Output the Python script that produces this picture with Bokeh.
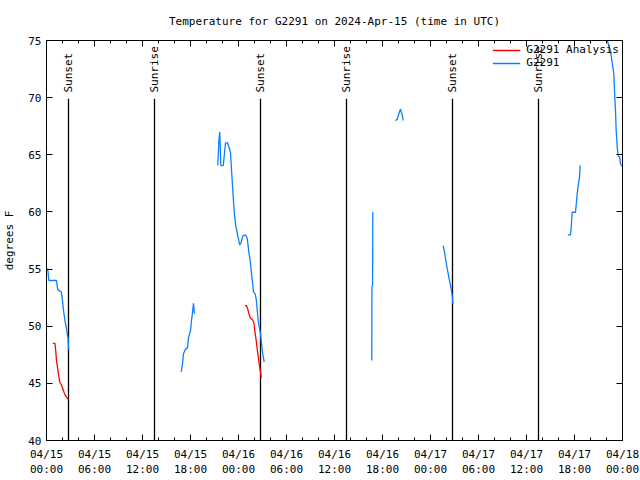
import math
from bokeh.plotting import figure
from bokeh.models import FixedTicker, LinearAxis, Range1d, Legend, LegendItem
from bokeh.core.properties import value
from bokeh.embed import file_html
from bokeh.resources import INLINE

# ---- data (x = hours since 2024-04-15 00:00 UTC) ----
blue1_t = [0.0, 0.15, 0.3, 1.25, 1.4, 1.85, 2.0, 2.1, 2.25, 2.38, 2.5, 2.62, 2.7, 2.75]
blue1_v = [55.0, 55.0, 54.0, 54.0, 53.2, 53.0, 52.2, 51.5, 50.8, 50.2, 49.8, 49.2, 49.0, 48.0]
blue2_t = [16.84, 17.0, 17.125, 17.375, 17.625, 17.75, 18.0, 18.125, 18.25, 18.375, 18.5]
blue2_v = [46.0, 46.7, 47.6, 48.0, 48.1, 49.0, 49.6, 50.5, 51.2, 52.0, 51.1]
blue3_t = [21.41, 21.55, 21.66, 21.79, 22.1, 22.2, 22.375, 22.625, 22.79, 23.0, 23.125,
           23.34, 23.5, 23.66, 23.91, 24.16, 24.34, 24.54, 24.875, 25.09, 25.29, 25.5,
           25.625, 25.75, 25.875, 26.09, 26.21, 26.34, 26.46, 26.59, 26.75, 26.875,
           27.0, 27.125, 27.21]
blue3_v = [64.06, 66.25, 67.0, 64.06, 64.06, 64.8, 66.05, 66.05, 65.7, 65.2, 63.7,
           61.3, 59.7, 58.8, 57.9, 57.1, 57.35, 57.9, 58.0, 57.7, 56.5, 55.5,
           54.6, 53.85, 53.0, 52.8, 52.4, 51.4, 50.5, 49.9, 49.35, 48.5,
           47.7, 47.2, 46.85]
blue4_t = [40.66, 40.68, 40.76, 40.79]
blue4_v = [47.0, 53.4, 53.6, 60.0]
blue5_t = [43.6, 43.85, 44.0, 44.25, 44.45, 44.6]
blue5_v = [68.0, 68.1, 68.5, 69.0, 68.5, 68.0]
blue6_t = [49.59, 49.75, 49.91, 50.125, 50.29, 50.46, 50.625, 50.75, 50.79]
blue6_v = [57.06, 56.5, 55.75, 54.9, 54.3, 53.7, 53.1, 52.5, 51.96]
blue7_t = [65.16, 65.5, 65.59, 65.71, 66.125, 66.34, 66.46, 66.625, 66.71]
blue7_v = [58.0, 58.0, 58.66, 59.97, 59.97, 61.6, 62.3, 63.0, 64.06]
blue8_t = [69.7, 70.09, 70.29, 70.5, 70.91, 71.04, 71.125, 71.21, 71.34, 71.46, 71.66,
           71.75, 71.875, 72.0]
blue8_v = [75.6, 75.0, 74.56, 74.06, 72.1, 70.0, 68.9, 67.1, 65.66, 64.9, 64.8,
           64.2, 64.06, 64.0]

red1_t = [0.8, 1.05, 1.15, 1.25, 1.38, 1.5, 1.66, 1.83, 2.0, 2.2, 2.38, 2.6, 2.75]
red1_v = [48.5, 48.5, 47.9, 47.0, 46.4, 45.8, 45.1, 44.9, 44.6, 44.2, 43.9, 43.7, 43.6]
red2_t = [24.79, 25.0, 25.16, 25.29, 25.5, 25.71, 25.91, 26.04, 26.21, 26.34, 26.46,
          26.59, 26.75, 26.84]
red2_v = [51.8, 51.8, 51.5, 51.1, 50.7, 50.6, 50.35, 49.6, 48.75, 48.0, 47.4,
          46.7, 46.0, 45.5]

sunset_t = [2.75, 26.75, 50.75]
sunrise_t = [13.5, 37.5, 61.5]

x_ticks = [0, 6, 12, 18, 24, 30, 36, 42, 48, 54, 60, 66, 72]
x_tick_labels = ["04/15\n00:00", "04/15\n06:00", "04/15\n12:00", "04/15\n18:00",
                 "04/16\n00:00", "04/16\n06:00", "04/16\n12:00", "04/16\n18:00",
                 "04/17\n00:00", "04/17\n06:00", "04/17\n12:00", "04/17\n18:00",
                 "04/18\n00:00"]
x_minor = list(range(0, 73, 2))
y_ticks = [40, 45, 50, 55, 60, 65, 70, 75]

FONT = "DejaVu Sans Mono"
FS = "11px"
BLUE = "#0a80ff"
RED = "#ff0000"

p = figure(width=640, height=480, output_backend="svg", toolbar_location=None,
           x_range=Range1d(0, 72), y_range=Range1d(40, 75),
           min_border_left=46, min_border_right=18, min_border_top=40,
           min_border_bottom=40,
           title="Temperature for G2291 on 2024-Apr-15 (time in UTC)")
p.title.align = "center"
p.title.text_font = FONT
p.title.text_font_size = FS
p.title.text_font_style = "normal"
p.title.text_color = "black"
p.title.standoff = 25
p.grid.visible = False
p.outline_line_color = "black"
p.outline_line_width = 1

xt = FixedTicker(ticks=x_ticks, minor_ticks=x_minor)
yt = FixedTicker(ticks=y_ticks, minor_ticks=[])

p.xaxis.ticker = xt
p.xaxis.major_label_overrides = {t: l for t, l in zip(x_ticks, x_tick_labels)}
p.yaxis.ticker = yt
p.yaxis.axis_label = "degrees F"

for ax in [p.xaxis[0], p.yaxis[0]]:
    ax.major_label_text_font = FONT
    ax.major_label_text_font_size = FS
    ax.axis_label_text_font = FONT
    ax.axis_label_text_font_size = FS
    ax.axis_label_text_font_style = "normal"
    ax.axis_label_text_color = "black"
    ax.major_tick_in = 6
    ax.major_tick_out = 0
    ax.minor_tick_in = 3
    ax.minor_tick_out = 0
    ax.axis_line_color = "black"
    ax.major_tick_line_color = "black"
    ax.minor_tick_line_color = "black"
    ax.major_label_text_color = "black"
p.xaxis.major_label_standoff = 7
p.yaxis.major_label_standoff = 5
p.yaxis.axis_label_standoff = 9

top_ax = LinearAxis(ticker=FixedTicker(ticks=x_ticks, minor_ticks=x_minor),
                    major_label_overrides={t: "" for t in x_ticks},
                    major_tick_in=6, major_tick_out=0,
                    minor_tick_in=3, minor_tick_out=0, major_label_standoff=0,
                    axis_line_color="black")
right_ax = LinearAxis(ticker=FixedTicker(ticks=y_ticks, minor_ticks=[]),
                      major_label_overrides={t: "" for t in y_ticks},
                      major_tick_in=6, major_tick_out=0,
                      minor_tick_in=0, minor_tick_out=0, major_label_standoff=0,
                      axis_line_color="black")
p.add_layout(top_ax, "above")
p.add_layout(right_ax, "right")

# sun events
events_t = sunset_t + sunrise_t
events_lbl = ["Sunset"] * len(sunset_t) + ["Sunrise"] * len(sunrise_t)
p.segment(x0=events_t, y0=[40] * len(events_t), x1=events_t, y1=[69.9] * len(events_t),
          line_color="black", line_width=1.3)
p.text(x=events_t, y=[70.45] * len(events_t), text=events_lbl, angle=math.pi / 2,
       text_align="left", text_baseline="middle", text_font=value(FONT),
       text_font_size=FS, text_color="black")

red_r = p.multi_line(xs=[red1_t, red2_t], ys=[red1_v, red2_v], line_color=RED, line_width=1.3)
blue_r = p.multi_line(xs=[blue1_t, blue2_t, blue3_t, blue4_t, blue5_t, blue6_t, blue7_t, blue8_t],
                      ys=[blue1_v, blue2_v, blue3_v, blue4_v, blue5_v, blue6_v, blue7_v, blue8_v],
                      line_color=BLUE, line_width=1.3)

legend = Legend(items=[LegendItem(label="G2291 Analysis", renderers=[red_r]),
                       LegendItem(label="G2291", renderers=[blue_r])],
                location="top_right", border_line_color=None, background_fill_alpha=0,
                label_text_font=FONT, label_text_font_size=FS, label_text_color="black",
                glyph_width=28, glyph_height=12, label_height=12, spacing=0,
                padding=2, margin=3, label_standoff=6)
p.add_layout(legend)

open("out.html", "w").write(file_html(p, INLINE))
